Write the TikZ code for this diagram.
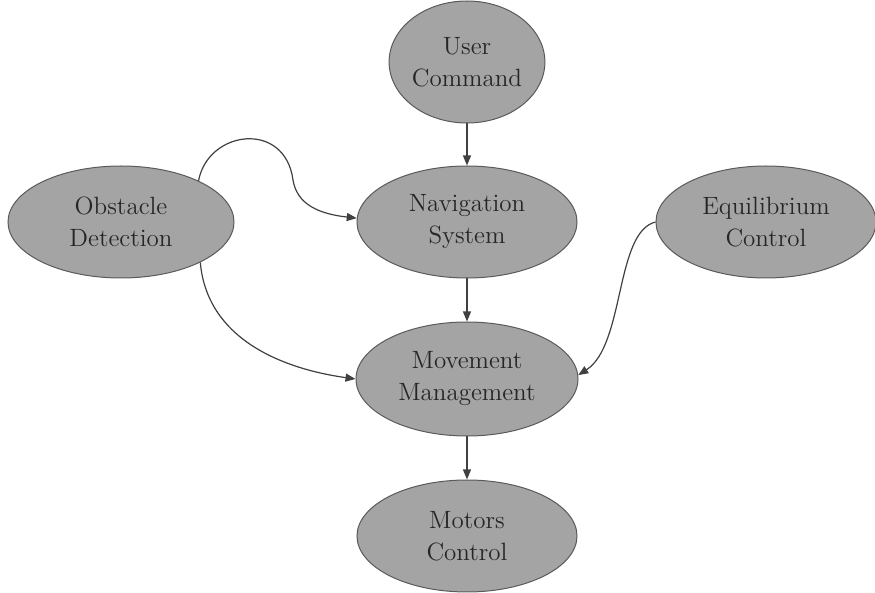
\documentclass[tikz,border=0pt]{standalone}
\usetikzlibrary{shapes.geometric,arrows.meta}
\definecolor{ndfill}{RGB}{164,164,164}
\definecolor{ndline}{RGB}{90,90,90}
\begin{document}
\begin{tikzpicture}[x=0.5pt, y=-0.5pt]
		\tikzset{nd/.style={ellipse, draw=ndline, fill=ndfill, line width=0.5pt, inner sep=0pt, minimum width=110pt, minimum height=56pt, align=center, font=\fontsize{12.5}{16}\selectfont, text=black!85}};
		\tikzset{arr/.style={-{Triangle[length=5pt, width=4pt]}, draw=black!75, line width=0.6pt}};

		\useasboundingbox (0, 0) rectangle (875, 593);

		\node[nd, minimum width=62pt, minimum height=61pt] (usr) at (467, 62) {User\\Command};
		\node[nd] (nav) at (467, 222) {Navigation\\System};
		\node[nd, minimum width=113pt] (obs) at (121, 222) {Obstacle\\Detection};
		\node[nd] (eq) at (766, 222) {Equilibrium\\Control};
		\node[nd, minimum width=111pt, minimum height=57pt] (mov) at (467, 379) {Movement\\Management};
		\node[nd] (mot) at (467, 536) {Motors\\Control};

		\coordinate (bend) at (293, 180);

		\draw[arr] (usr) to (nav);
		\draw[arr] (nav) to (mov);
		\draw[arr] (mov) to (mot);

		\draw[arr] (obs.28) .. controls (208, 130) and (285, 120) .. (bend) .. controls (297, 205) and (320, 214) .. (nav.178);
		\draw[arr] (obs.-27) to[out=-85, in=172] (mov.180);
		\draw[arr] (eq.180) .. controls (615, 232) and (625, 345) .. (mov.2);

	\end{tikzpicture}
\end{document}
